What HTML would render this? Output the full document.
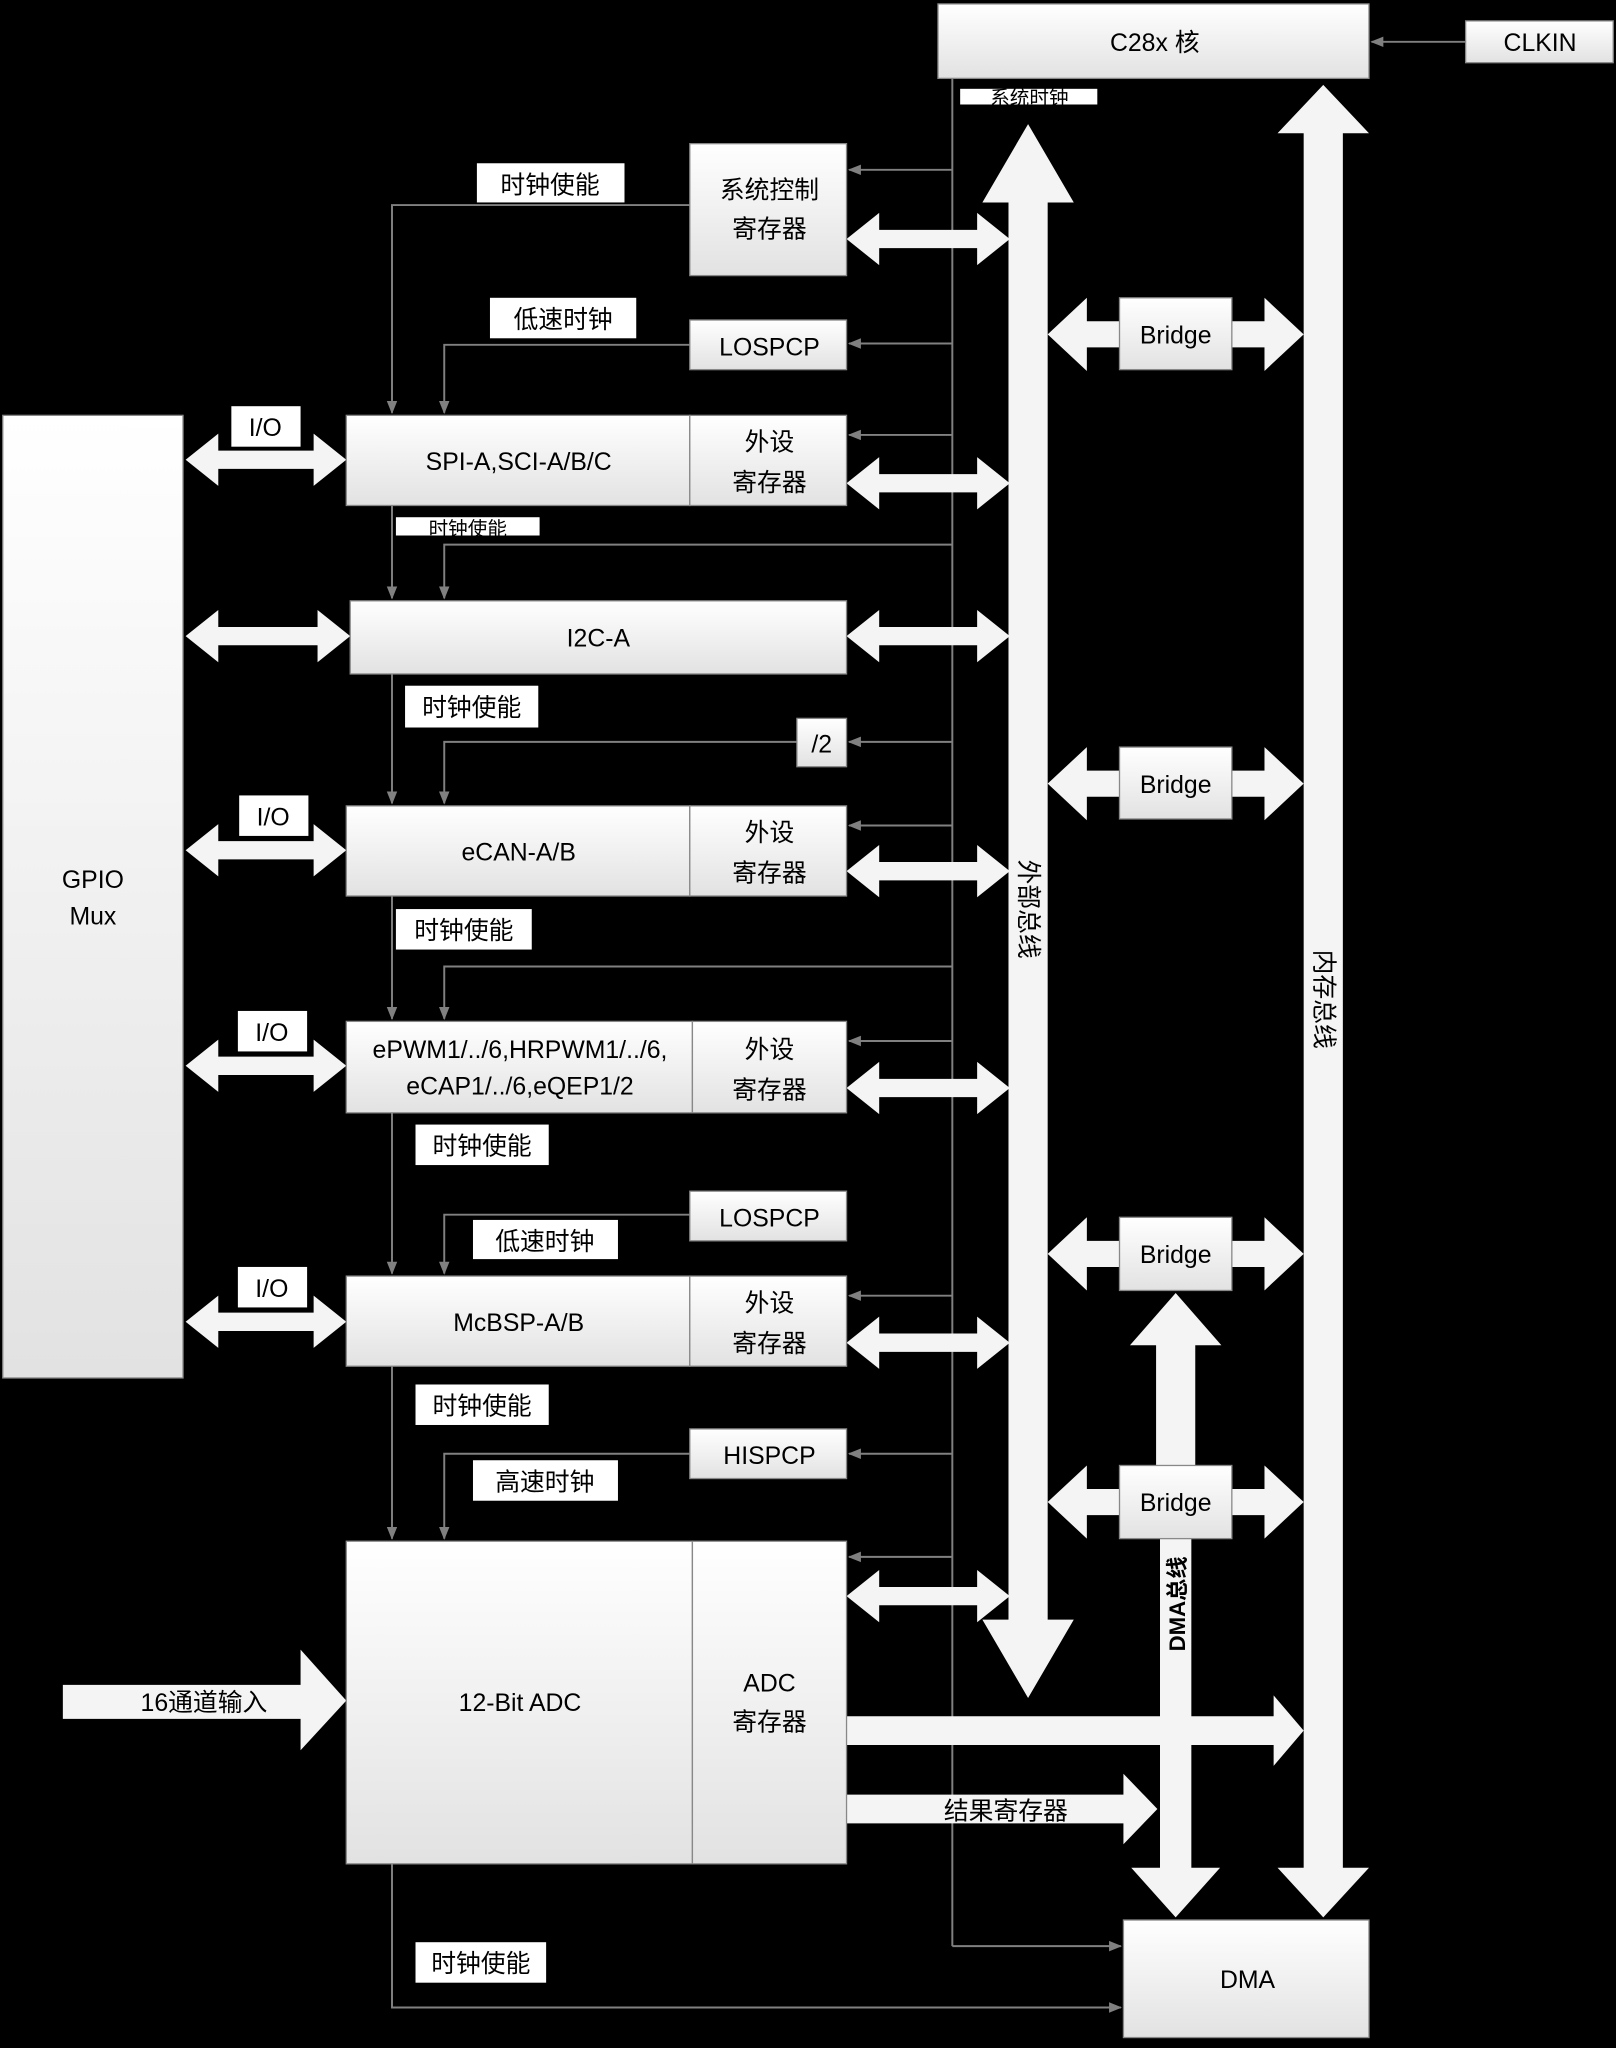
<!DOCTYPE html>
<html><head><meta charset="utf-8"><style>
html,body{margin:0;padding:0;background:#000;}
svg{display:block;}
text{font-family:"Liberation Sans","Noto Sans CJK SC",sans-serif;fill:#000;}
</style></head><body>
<svg width="1616" height="2048" viewBox="0 0 1237 1568" xmlns="http://www.w3.org/2000/svg">
<defs>
<linearGradient id="g" x1="0" y1="0" x2="0" y2="1"><stop offset="0" stop-color="#ffffff"/><stop offset="1" stop-color="#e2e2e2"/></linearGradient>
<marker id="a" markerWidth="10" markerHeight="10" refX="9" refY="5" orient="auto" markerUnits="userSpaceOnUse"><path d="M0,1 L10,5 L0,9 z" fill="#808080"/></marker>
</defs>
<rect width="1237" height="1568" fill="#000"/>

<g stroke="#808080" stroke-width="1.5" fill="none">
<line x1="1122" y1="32" x2="1050" y2="32" marker-end="url(#a)"/>
<line x1="729" y1="60" x2="729" y2="1490"/>
<line x1="729" y1="1490" x2="858" y2="1490" marker-end="url(#a)"/>
<line x1="729" y1="130" x2="650" y2="130" marker-end="url(#a)"/>
<line x1="729" y1="263" x2="650" y2="263" marker-end="url(#a)"/>
<line x1="729" y1="333" x2="650" y2="333" marker-end="url(#a)"/>
<line x1="729" y1="568" x2="650" y2="568" marker-end="url(#a)"/>
<line x1="729" y1="632" x2="650" y2="632" marker-end="url(#a)"/>
<line x1="729" y1="797" x2="650" y2="797" marker-end="url(#a)"/>
<line x1="729" y1="992" x2="650" y2="992" marker-end="url(#a)"/>
<line x1="729" y1="1113" x2="650" y2="1113" marker-end="url(#a)"/>
<line x1="729" y1="1192" x2="650" y2="1192" marker-end="url(#a)"/>
<polyline points="528,157 300,157 300,316" marker-end="url(#a)"/>
<polyline points="528,264 340,264 340,316" marker-end="url(#a)"/>
<line x1="300" y1="387" x2="300" y2="458" marker-end="url(#a)"/>
<polyline points="729,417 340,417 340,458" marker-end="url(#a)"/>
<line x1="300" y1="516" x2="300" y2="615" marker-end="url(#a)"/>
<polyline points="610,568 340,568 340,615" marker-end="url(#a)"/>
<line x1="300" y1="686" x2="300" y2="780" marker-end="url(#a)"/>
<polyline points="729,740 340,740 340,780" marker-end="url(#a)"/>
<line x1="300" y1="852" x2="300" y2="975" marker-end="url(#a)"/>
<polyline points="528,930 340,930 340,975" marker-end="url(#a)"/>
<line x1="300" y1="1046" x2="300" y2="1178" marker-end="url(#a)"/>
<polyline points="528,1113 340,1113 340,1178" marker-end="url(#a)"/>
<polyline points="300,1427 300,1537 858,1537" marker-end="url(#a)"/>
</g>

<g fill="#f4f4f4">
<polygon points="142,352 167,332 167,345 240,345 240,332 265,352 240,372 240,359 167,359 167,372"/>
<polygon points="142,487 167,467 167,480 243,480 243,467 268,487 243,507 243,494 167,494 167,507"/>
<polygon points="142,651 167,631 167,644 240,644 240,631 265,651 240,671 240,658 167,658 167,671"/>
<polygon points="142,816 167,796 167,809 240,809 240,796 265,816 240,836 240,823 167,823 167,836"/>
<polygon points="142,1012 167,992 167,1005 240,1005 240,992 265,1012 240,1032 240,1019 167,1019 167,1032"/>

<polygon points="648,183 673,163 673,176 748,176 748,163 773,183 748,203 748,190 673,190 673,203"/>
<polygon points="648,370 673,350 673,363 748,363 748,350 773,370 748,390 748,377 673,377 673,390"/>
<polygon points="648,487 673,467 673,480 748,480 748,467 773,487 748,507 748,494 673,494 673,507"/>
<polygon points="648,667 673,647 673,660 748,660 748,647 773,667 748,687 748,674 673,674 673,687"/>
<polygon points="648,833 673,813 673,826 748,826 748,813 773,833 748,853 748,840 673,840 673,853"/>
<polygon points="648,1028 673,1008 673,1021 748,1021 748,1008 773,1028 748,1048 748,1035 673,1035 673,1048"/>
<polygon points="648,1222 673,1202 673,1215 748,1215 748,1202 773,1222 748,1242 748,1229 673,1229 673,1242"/>

<polygon points="787,95 822,155 802,155 802,1240 822,1240 787,1300 752,1240 772,1240 772,155 752,155"/>
<polygon points="1013,65 1048,102 1028,102 1028,1430 1048,1430 1013,1468 978,1430 998,1430 998,102 978,102"/>

<polygon points="802,256 832,228 832,246 857,246 857,266 832,266 832,284"/>
<polygon points="943,246 968,246 968,228 998,256 968,284 968,266 943,266"/>
<polygon points="802,600 832,572 832,590 857,590 857,610 832,610 832,628"/>
<polygon points="943,590 968,590 968,572 998,600 968,628 968,610 943,610"/>
<polygon points="802,960 832,932 832,950 857,950 857,970 832,970 832,988"/>
<polygon points="943,950 968,950 968,932 998,960 968,988 968,970 943,970"/>
<polygon points="802,1150 832,1122 832,1140 857,1140 857,1160 832,1160 832,1178"/>
<polygon points="943,1140 968,1140 968,1122 998,1150 968,1178 968,1160 943,1160"/>

<polygon points="900,990 935,1030 915,1030 915,1122 885,1122 885,1030 865,1030"/>
<polygon points="888,1178 912,1178 912,1430 934,1430 900,1468 866,1430 888,1430"/>

<polygon points="48,1290 230,1290 230,1263 265,1302 230,1340 230,1316 48,1316"/>
<polygon points="648,1314 975,1314 975,1298 998,1325 975,1352 975,1336 648,1336"/>
<polygon points="648,1374 860,1374 860,1358 886,1385 860,1412 860,1396 648,1396"/>
</g>

<g fill="url(#g)" stroke="#888" stroke-width="1">
<rect x="718" y="3" width="330" height="57"/>
<rect x="1122" y="16" width="113" height="32"/>
<rect x="528" y="110" width="120" height="101"/>
<rect x="528" y="245" width="120" height="38"/>
<rect x="265" y="318" width="263" height="69"/>
<rect x="528" y="318" width="120" height="69"/>
<rect x="268" y="460" width="380" height="56"/>
<rect x="610" y="550" width="38" height="37"/>
<rect x="265" y="617" width="263" height="69"/>
<rect x="528" y="617" width="120" height="69"/>
<rect x="265" y="782" width="265" height="70"/>
<rect x="530" y="782" width="118" height="70"/>
<rect x="528" y="912" width="120" height="38"/>
<rect x="265" y="977" width="263" height="69"/>
<rect x="528" y="977" width="120" height="69"/>
<rect x="528" y="1094" width="120" height="38"/>
<rect x="265" y="1180" width="265" height="247"/>
<rect x="530" y="1180" width="118" height="247"/>
<rect x="2" y="318" width="138" height="737"/>
<rect x="857" y="228" width="86" height="55"/>
<rect x="857" y="572" width="86" height="55"/>
<rect x="857" y="932" width="86" height="56"/>
<rect x="857" y="1122" width="86" height="56"/>
<rect x="860" y="1470" width="188" height="90"/>
</g>

<g fill="#fff">
<rect x="735" y="68" width="105" height="12"/>
<rect x="365" y="125" width="113" height="30"/>
<rect x="375" y="228" width="112" height="31"/>
<rect x="177" y="311" width="53" height="31"/>
<rect x="303" y="396" width="110" height="14"/>
<rect x="310" y="525" width="102" height="32"/>
<rect x="183" y="609" width="53" height="31"/>
<rect x="303" y="696" width="104" height="31"/>
<rect x="182" y="774" width="53" height="31"/>
<rect x="318" y="861" width="102" height="31"/>
<rect x="362" y="934" width="111" height="30"/>
<rect x="182" y="970" width="53" height="31"/>
<rect x="318" y="1060" width="102" height="31"/>
<rect x="362" y="1118" width="111" height="31"/>
<rect x="318" y="1487" width="100" height="31"/>
</g>

<g font-size="19" text-anchor="middle">
<text x="884" y="39">C28x 核</text>
<text x="1179" y="39">CLKIN</text>
<text x="788" y="80" font-size="15">系统时钟</text>
<text x="421" y="148">时钟使能</text>
<text x="589" y="152">系统控制</text>
<text x="589" y="182">寄存器</text>
<text x="431" y="251">低速时钟</text>
<text x="589" y="272">LOSPCP</text>
<text x="900" y="263">Bridge</text>
<text x="203" y="334">I/O</text>
<text x="397" y="360">SPI-A,SCI-A/B/C</text>
<text x="589" y="345">外设</text>
<text x="589" y="376">寄存器</text>
<text x="358" y="410" font-size="15">时钟使能</text>
<text x="458" y="495">I2C-A</text>
<text x="361" y="548">时钟使能</text>
<text x="629" y="576">/2</text>
<text x="900" y="607">Bridge</text>
<text x="209" y="632">I/O</text>
<text x="397" y="659">eCAN-A/B</text>
<text x="589" y="644">外设</text>
<text x="589" y="675">寄存器</text>
<text x="71" y="680">GPIO</text>
<text x="71" y="708">Mux</text>
<text x="355" y="719">时钟使能</text>
<text x="208" y="797">I/O</text>
<text x="398" y="810">ePWM1/../6,HRPWM1/../6,</text>
<text x="398" y="838">eCAP1/../6,eQEP1/2</text>
<text x="589" y="810">外设</text>
<text x="589" y="841">寄存器</text>
<text x="369" y="884">时钟使能</text>
<text x="589" y="939">LOSPCP</text>
<text x="417" y="957">低速时钟</text>
<text x="900" y="967">Bridge</text>
<text x="208" y="993">I/O</text>
<text x="397" y="1019">McBSP-A/B</text>
<text x="589" y="1004">外设</text>
<text x="589" y="1035">寄存器</text>
<text x="369" y="1083">时钟使能</text>
<text x="589" y="1121">HISPCP</text>
<text x="417" y="1141">高速时钟</text>
<text x="900" y="1157">Bridge</text>
<text x="589" y="1295">ADC</text>
<text x="589" y="1325">寄存器</text>
<text x="398" y="1310">12-Bit ADC</text>
<text x="156" y="1310">16通道输入</text>
<text x="770" y="1393">结果寄存器</text>
<text x="368" y="1510">时钟使能</text>
<text x="955" y="1522">DMA</text>
<text transform="translate(781,696) rotate(90)">外部总线</text>
<text transform="translate(1007,765) rotate(90)">内存总线</text>
<text transform="translate(907,1228) rotate(-90)" font-size="17" font-weight="bold">DMA总线</text>
</g>
</svg>
</body></html>
